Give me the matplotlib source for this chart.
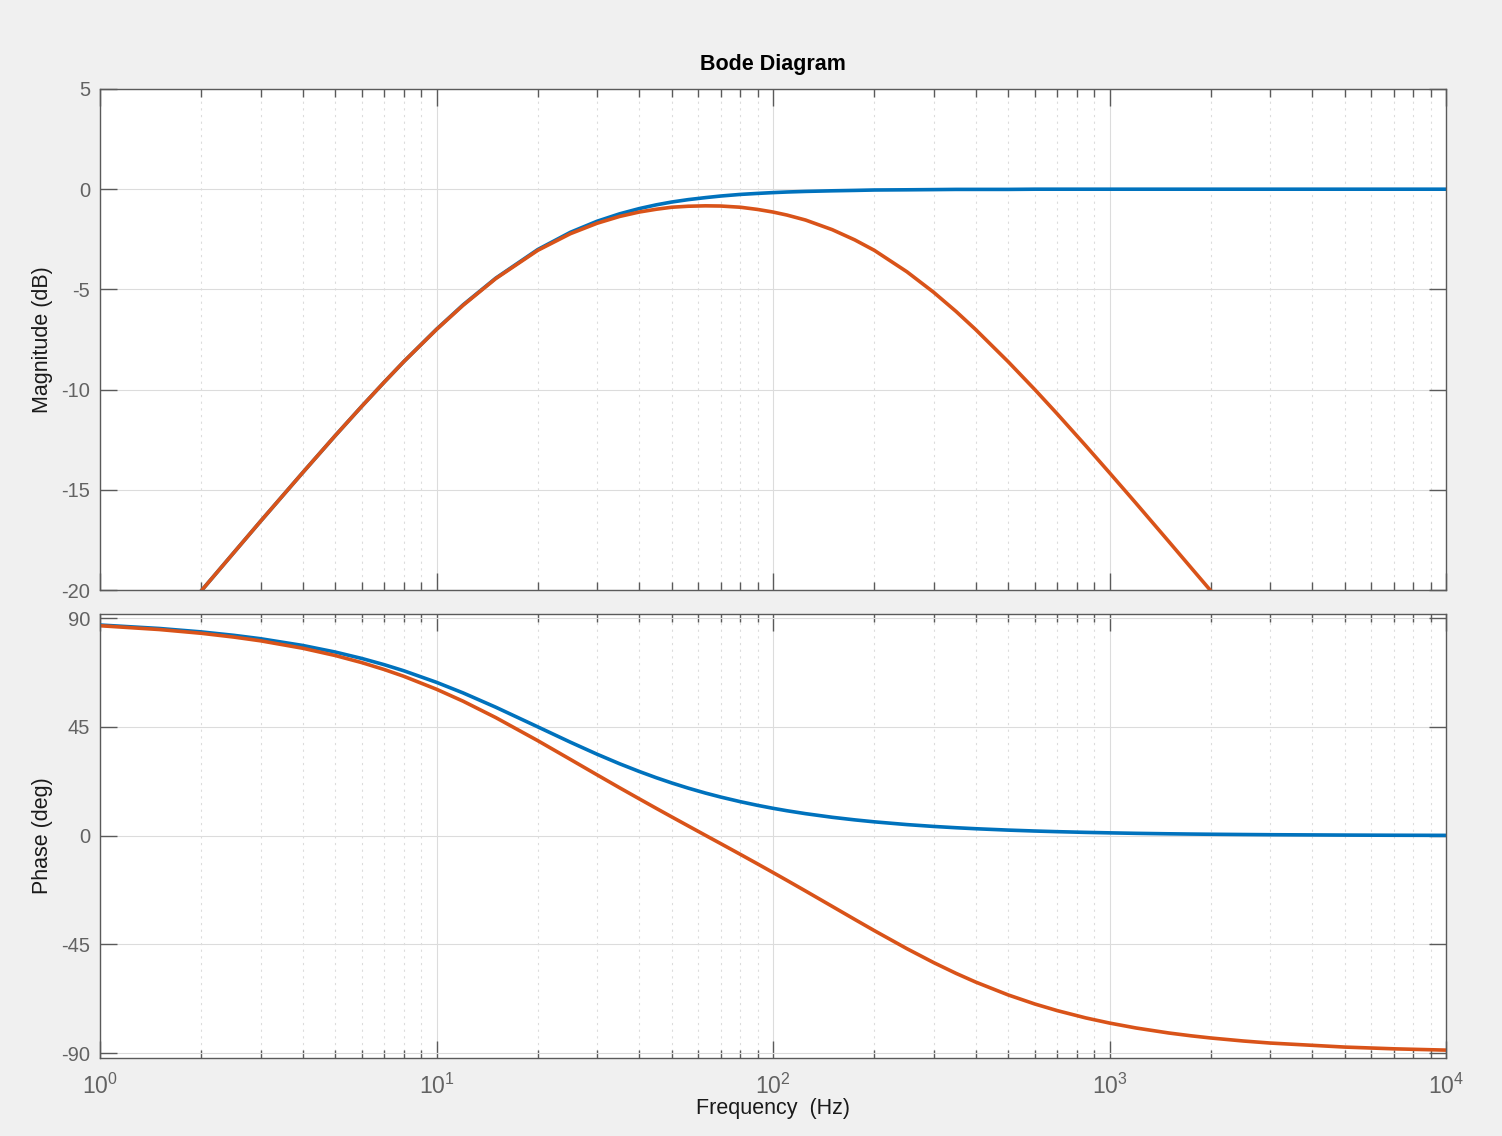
import numpy as np
import matplotlib.pyplot as plt
from matplotlib.ticker import LogLocator, NullFormatter, FixedLocator

plt.rcParams['font.family'] = ['Liberation Sans', 'DejaVu Sans']
plt.rcParams['axes.unicode_minus'] = False
plt.rcParams['mathtext.fontset'] = 'custom'
plt.rcParams['mathtext.rm'] = 'Liberation Sans'
plt.rcParams['mathtext.default'] = 'regular'

# frequencies (Hz)
freq = [1, 1.5, 2, 2.5, 3, 4, 5, 6, 7, 8,
        10, 12, 15, 20, 25, 30, 35, 40, 45, 50,
        56, 63, 70, 80, 90, 100, 110, 125, 150, 175,
        200, 250, 300, 350, 400, 500, 600, 700, 850, 1000,
        1200, 1500, 1750, 2000, 2500, 3000, 5000, 7000, 10000]

# magnitude (dB)
mag_blue = [-26.03, -22.52, -20.04, -18.13, -16.57, -14.15, -12.30, -10.83, -9.62, -8.60,
            -6.99, -5.77, -4.44, -3.01, -2.15, -1.60, -1.23, -0.97, -0.78, -0.64,
            -0.52, -0.42, -0.34, -0.26, -0.21, -0.17, -0.14, -0.11, -0.08, -0.06,
            -0.04, -0.03, -0.02, -0.01, -0.01, -0.01, 0.0, 0.0, 0.0, 0.0,
            0.0, 0.0, 0.0, 0.0, 0.0, 0.0, 0.0, 0.0, 0.0]
mag_orange = [-26.03, -22.52, -20.04, -18.13, -16.57, -14.15, -12.30, -10.83, -9.62, -8.60,
              -7.00, -5.79, -4.46, -3.05, -2.22, -1.70, -1.36, -1.14, -1.00, -0.90,
              -0.85, -0.83, -0.84, -0.90, -1.01, -1.14, -1.29, -1.54, -2.02, -2.53,
              -3.05, -4.12, -5.14, -6.10, -7.00, -8.61, -10.00, -11.22, -12.80, -14.15,
              -15.68, -17.58, -18.90, -20.04, -21.97, -23.54, -27.96, -30.88, -33.98]

# phase (deg)
ph_blue = [87.14, 85.71, 84.29, 82.87, 81.47, 78.69, 75.96, 73.30, 70.71, 68.20,
           63.43, 59.04, 53.13, 45.0, 38.66, 33.69, 29.74, 26.57, 23.96, 21.80,
           19.65, 17.61, 15.95, 14.04, 12.53, 11.31, 10.30, 9.09, 7.59, 6.52,
           5.71, 4.57, 3.81, 3.27, 2.86, 2.29, 1.91, 1.64, 1.35, 1.15,
           0.95, 0.76, 0.65, 0.57, 0.46, 0.38, 0.23, 0.16, 0.11]
ph_orange = [86.85, 85.28, 83.72, 82.15, 80.61, 77.54, 74.53, 71.58, 68.71, 65.91,
             60.57, 55.61, 48.84, 39.29, 31.53, 25.16, 19.81, 15.26, 11.28, 7.76,
             4.01, 0.12, -3.34, -7.76, -11.70, -15.26, -18.51, -22.92, -29.28, -34.67,
             -39.29, -46.77, -52.50, -56.99, -60.57, -65.91, -69.66, -72.41, -75.41, -77.54,
             -79.59, -81.65, -82.83, -83.72, -84.97, -85.81, -87.48, -88.20, -88.74]

blue = '#0072BD'
orange = '#D95319'
axcol = '#5a5a5a'
txtcol = '#626262'

fig = plt.figure(figsize=(15.02, 11.36), dpi=100, facecolor='#f0f0f0')
W, H = 1502, 1136
ax1 = fig.add_axes([100 / W, 1 - 590 / H, 1346 / W, 501 / H])
ax2 = fig.add_axes([100 / W, 1 - 1058 / H, 1346 / W, 444 / H])

for ax in (ax1, ax2):
    ax.set_xscale('log')
    ax.set_xlim(1, 1e4)
    ax.xaxis.set_major_locator(LogLocator(base=10, numticks=10))
    ax.xaxis.set_minor_locator(LogLocator(base=10, subs=np.arange(2, 10), numticks=50))
    ax.xaxis.set_minor_formatter(NullFormatter())
    ax.grid(True, which='major', color='#dcdcdc', linewidth=0.8)
    ax.grid(True, which='minor', axis='x', color='#dcdcdc', linestyle=(0, (2, 4)), linewidth=0.8)
    ax.tick_params(which='both', direction='in', top=True, right=True, color=axcol,
                   labelcolor=txtcol)
    ax.tick_params(axis='y', labelsize=14.5, pad=7)
    ax.tick_params(axis='x', labelsize=16.5, pad=11)
    ax.tick_params(which='major', length=12, width=1)
    ax.tick_params(which='minor', length=6, width=1)
    for s in ax.spines.values():
        s.set_color(axcol)
        s.set_linewidth(1)
    ax.set_axisbelow(True)

ax1.plot(freq, mag_blue, color=blue, linewidth=2.6)
ax1.plot(freq, mag_orange, color=orange, linewidth=2.6)
ax1.set_ylim(-20, 5)
ax1.yaxis.set_major_locator(FixedLocator([-20, -15, -10, -5, 0, 5]))
ax1.set_xticklabels([])
ax1.set_ylabel('Magnitude (dB)', fontsize=15.5, color='#1a1a1a', labelpad=6)
ax1.set_title('Bode Diagram', fontsize=15.5, fontweight='bold', pad=14)

ax2.plot(freq, ph_blue, color=blue, linewidth=2.6)
ax2.plot(freq, ph_orange, color=orange, linewidth=2.6)
ax2.set_ylim(-92, 91.7)
ax2.yaxis.set_major_locator(FixedLocator([-90, -45, 0, 45, 90]))
ax2.set_ylabel('Phase (deg)', fontsize=15.5, color='#1a1a1a', labelpad=6)
ax2.set_xlabel('Frequency  (Hz)', fontsize=15.5, color='#1a1a1a', labelpad=0)

fig.savefig('out.png', dpi=100, facecolor=fig.get_facecolor())
